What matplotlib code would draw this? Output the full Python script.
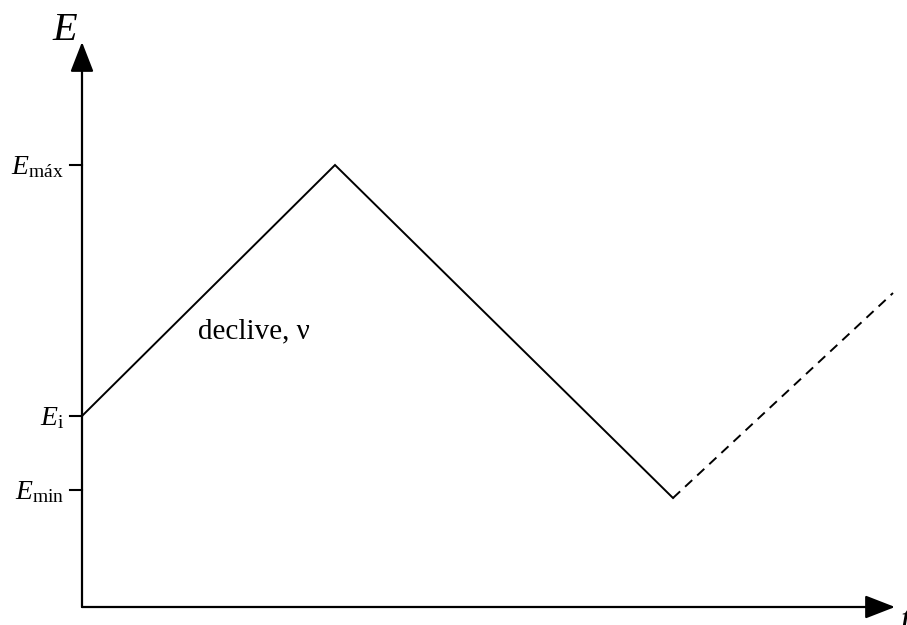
import matplotlib
matplotlib.use('Agg')
import matplotlib.pyplot as plt

plt.rcParams['font.family'] = ['Liberation Serif', 'DejaVu Serif']
plt.rcParams['mathtext.fontset'] = 'custom'
plt.rcParams['mathtext.rm'] = 'Liberation Serif'
plt.rcParams['mathtext.it'] = 'Liberation Serif:italic'

# Potencial de varrimento (unidades arbitrárias)
t_sweep = [0.0, 2.53, 5.91]
E_sweep = [1.91, 4.42, 1.09]
t_next = [5.91, 8.11]
E_next = [1.09, 3.14]

tick_vals = [4.42, 1.91, 1.17]
tick_labels = [r'$E_{\mathrm{máx}}$', r'$E_{\mathrm{i}}$', r'$E_{\mathrm{min}}$']

fig = plt.figure(figsize=(9.07, 6.25), dpi=100)
ax = fig.add_axes([0, 0, 1, 1])
ax.set_xlim(-0.82, 8.25)
ax.set_ylim(-0.18, 6.07)
ax.axis('off')

# eixos com setas
arrow = dict(arrowstyle='-|>,head_length=1.85,head_width=0.72', color='black', lw=1.6,
             shrinkA=0, shrinkB=0)
ax.annotate('', xy=(8.13, 0), xytext=(0, 0), arrowprops=arrow)
ax.annotate('', xy=(0, 5.65), xytext=(0, 0), arrowprops=arrow)

ax.plot(t_sweep, E_sweep, color='black', lw=1.4, solid_joinstyle='miter')
ax.plot(t_next, E_next, color='black', lw=1.4, ls=(0, (5, 3.5)))

for v, lab in zip(tick_vals, tick_labels):
    ax.plot([-0.12, 0], [v, v], color='black', lw=1.5)
    ax.text(-0.18, v - 0.02, lab, ha='right', va='center', fontsize=20)

ax.text(-0.17, 5.77, r'$E$', ha='center', va='center', fontsize=29)
ax.text(8.18, -0.15, r'$t$', ha='left', va='center', fontsize=26)
ax.text(1.16, 2.69, 'declive, ν', ha='left', va='baseline', fontsize=21)

fig.savefig('out.png', dpi=100)
